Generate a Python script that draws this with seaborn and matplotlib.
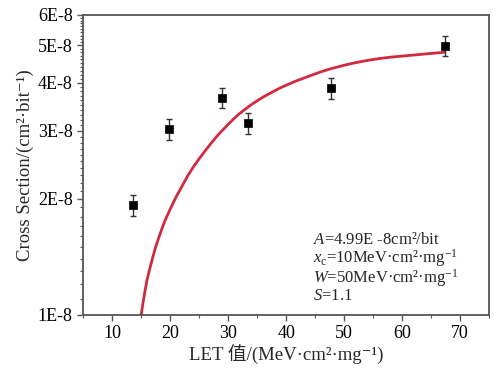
import numpy as np
import pandas as pd
import matplotlib
matplotlib.use("Agg")
import matplotlib.pyplot as plt
import seaborn as sns
from matplotlib.ticker import FixedLocator, NullFormatter, MultipleLocator

# dados medidos (LET, secao de choque) e barras de erro
let_vals = [13.6, 19.8, 29.0, 33.5, 47.8, 67.4]
sigma_vals = [1.93e-8, 3.04e-8, 3.66e-8, 3.14e-8, 3.88e-8, 4.98e-8]
sigma_err = [0.12e-8, 0.19e-8, 0.22e-8, 0.19e-8, 0.24e-8, 0.30e-8]

# curva de ajuste Weibull
fit_let = [15.0, 15.3, 15.6, 16.0, 16.5, 17.0, 17.5, 18.0, 18.5, 19.0, 20.0,
           21.0, 22.0, 23.0, 24.0, 25.0, 26.0, 27.0, 28.0, 29.0, 30.0, 31.0,
           32.0, 33.0, 34.0, 35.0, 36.0, 37.0, 38.0, 39.0, 40.0, 41.5, 43.0,
           44.5, 46.0, 47.5, 49.0, 50.5, 52.0, 54.0, 56.0, 58.0, 60.0, 62.0,
           64.0, 66.0, 67.4]
fit_sigma = [1.00e-8, 1.07e-8, 1.14e-8, 1.23e-8, 1.32e-8, 1.41e-8, 1.50e-8,
             1.58e-8, 1.66e-8, 1.74e-8, 1.88e-8, 2.02e-8, 2.15e-8, 2.29e-8,
             2.42e-8, 2.54e-8, 2.66e-8, 2.78e-8, 2.90e-8, 3.01e-8, 3.12e-8,
             3.23e-8, 3.33e-8, 3.42e-8, 3.51e-8, 3.59e-8, 3.67e-8, 3.74e-8,
             3.81e-8, 3.88e-8, 3.94e-8, 4.03e-8, 4.11e-8, 4.19e-8, 4.27e-8,
             4.34e-8, 4.40e-8, 4.46e-8, 4.51e-8, 4.57e-8, 4.62e-8, 4.66e-8,
             4.69e-8, 4.72e-8, 4.75e-8, 4.78e-8, 4.80e-8]

y_ticks = [1e-8, 2e-8, 3e-8, 4e-8, 5e-8, 6e-8]
y_labels = ["1E-8", "2E-8", "3E-8", "4E-8", "5E-8", "6E-8"]
x_ticks = [10, 20, 30, 40, 50, 60, 70]

# parametros do ajuste, em dois blocos como na figura
param_block1 = "$A$=4.99E -8cm²/bit\n$x_{\\mathrm{c}}$=10MeV·cm²·mg$^{-1}$"
param_block2 = "$W$=50MeV·cm²·mg$^{-1}$\n$S$=1.1"

df = pd.DataFrame({"LET": let_vals, "Sigma": sigma_vals, "Err": sigma_err})
df_fit = pd.DataFrame({"LET": fit_let, "Sigma": fit_sigma})

sns.set_style("ticks")
plt.rcParams["font.family"] = ["Liberation Serif", "DejaVu Serif", "Noto Sans CJK SC"]
plt.rcParams["mathtext.fontset"] = "custom"
plt.rcParams["mathtext.rm"] = "Liberation Serif"
plt.rcParams["mathtext.it"] = "Liberation Serif:italic"

fig = plt.figure(figsize=(4.98, 3.71), dpi=100)
ax = fig.add_axes([0.167, 0.151, 0.815, 0.809])

sns.lineplot(data=df_fit, x="LET", y="Sigma", color="#d12a3f", linewidth=2, ax=ax)
ax.errorbar(df["LET"], df["Sigma"], yerr=df["Err"], fmt="none", ecolor="#333333",
            elinewidth=1, capsize=2.5, capthick=1, zorder=3)
sns.scatterplot(data=df, x="LET", y="Sigma", marker="s", color="black", s=28,
                edgecolor="black", linewidth=0.5, ax=ax, zorder=4)

ax.set_yscale("log")
ax.set_xlim(5, 75)
ax.set_ylim(1e-8, 6e-8)
ax.yaxis.set_major_locator(FixedLocator(y_ticks))
ax.set_yticklabels(y_labels)
ax.yaxis.set_minor_locator(FixedLocator(np.arange(1.1e-8, 6e-8, 0.1e-8)))
ax.yaxis.set_minor_formatter(NullFormatter())
ax.set_xticks(x_ticks)
ax.xaxis.set_minor_locator(MultipleLocator(5))

for s in ax.spines.values():
    s.set_color("#555555")
    s.set_linewidth(1.3)
ax.tick_params(axis="both", which="major", direction="out", length=4, width=1,
               color="#555555", labelsize=13, labelcolor="black")
ax.tick_params(axis="both", which="minor", direction="out", length=2.5, width=0.8,
               color="#555555")

ax.set_xlabel("LET 值/(MeV·cm²·mg⁻¹)", fontsize=13.5, labelpad=1)
ax.set_ylabel("Cross Section/(cm²·bit⁻¹)", fontsize=13.5, labelpad=3)

ax.text(0.566, 0.152, param_block1, transform=ax.transAxes, fontsize=12,
        ha="left", va="bottom", linespacing=0.95)
ax.text(0.566, 0.035, param_block2, transform=ax.transAxes, fontsize=12,
        ha="left", va="bottom", linespacing=0.95)

fig.savefig("out.png", dpi=100)
